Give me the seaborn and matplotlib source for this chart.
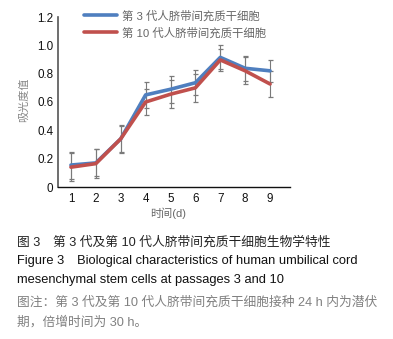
import matplotlib
matplotlib.use("Agg")
import matplotlib.pyplot as plt
import seaborn as sns
import pandas as pd
import numpy as np

days = [1, 2, 3, 4, 5, 6, 7, 8, 9]
p3_values = [0.155, 0.17, 0.34, 0.65, 0.69, 0.736, 0.915, 0.838, 0.82]
p10_values = [0.14, 0.165, 0.34, 0.60, 0.655, 0.70, 0.897, 0.82, 0.727]
p3_err = [0.095, 0.095, 0.10, 0.09, 0.095, 0.09, 0.085, 0.09, 0.08]
p10_err = [0.10, 0.10, 0.09, 0.09, 0.10, 0.10, 0.08, 0.095, 0.09]
series_names = ["第 3 代人脐带间充质干细胞", "第 10 代人脐带间充质干细胞"]
y_ticks = [0, 0.2, 0.4, 0.6, 0.8, 1.0, 1.2]
y_tick_labels = ["0", "0.2", "0.4", "0.6", "0.8", "1.0", "1.2"]
x_label = "时间(d)"
y_label = "吸光度值"
caption_lines = [
    "图 3\u3000第 3 代及第 10 代人脐带间充质干细胞生物学特性",
    "Figure 3\u3000Biological characteristics of human umbilical cord",
    "mesenchymal stem cells at passages 3 and 10",
    "图注：第 3 代及第 10 代人脐带间充质干细胞接种 24 h 内为潜伏",
    "期，倍增时间为 30 h。",
]

sns.set_theme(style="white")
plt.rcParams['font.family'] = ['Liberation Sans', 'Noto Sans CJK SC', 'DejaVu Sans']

df = pd.DataFrame({
    "day": days * 2,
    "value": p3_values + p10_values,
    "series": [series_names[0]] * len(days) + [series_names[1]] * len(days),
})

colors = {series_names[0]: "#4f7fbf", series_names[1]: "#c0504d"}

fig = plt.figure(figsize=(3.93, 3.39), dpi=100)
ax = fig.add_axes([58/393, 1-187/339, 232/393, 170/339])

# error bars
ax.errorbar(days, p3_values, yerr=p3_err, fmt='none', ecolor="#7a7a7a",
            elinewidth=0.8, capsize=1.8, capthick=0.9, zorder=1)
ax.errorbar(days, p10_values, yerr=p10_err, fmt='none', ecolor="#7a7a7a",
            elinewidth=0.8, capsize=1.8, capthick=0.9, zorder=1)

sns.lineplot(data=df, x="day", y="value", hue="series", palette=colors,
             linewidth=2.6, ax=ax, legend=False, zorder=3)

ax.set_xlim(0.48, 9.8)
ax.set_ylim(0, 1.2)
ax.set_xticks(days)
ax.set_xticklabels([str(d) for d in days], fontsize=8.4, color="#111111")
ax.set_yticks(y_ticks)
ax.set_yticklabels(y_tick_labels, fontsize=8.4, color="#111111")
ax.tick_params(axis='x', direction='in', length=4, width=0.8, color="#333333", pad=4.5)
ax.tick_params(axis='y', direction='in', length=3, width=0.8, color="#333333", pad=3.5)
ax.set_xlabel("")
ax.set_ylabel("")
for s in ["top", "right"]:
    ax.spines[s].set_visible(False)
ax.spines["left"].set_color("#555555")
ax.spines["left"].set_linewidth(1.2)
ax.spines["bottom"].set_color("#111111")
ax.spines["bottom"].set_linewidth(1.0)

# axis labels
fig.text(24/393, 1-100/339, y_label, rotation=90, ha='center', va='center',
         fontsize=8, color="#888888")
fig.text(168/393, 1-213/339, x_label, ha='center', va='center',
         fontsize=8, color="#666666")

# legend
from matplotlib.lines import Line2D
handles = [Line2D([0], [0], color=colors[n], lw=2.6) for n in series_names]
fig.legend(handles, series_names, loc='upper left', bbox_to_anchor=(84/393, 1-10/339),
           frameon=False, fontsize=8.2, handlelength=2.9, handletextpad=0.4,
           labelspacing=0.5, borderpad=0, borderaxespad=0, labelcolor="#666666")

# caption
ys = [242, 261, 280, 302, 322]
cols = ["#222222", "#111111", "#111111", "#808080", "#808080"]
sizes = [9.2, 9.3, 9.3, 9.2, 9.2]
for line, y, c, fs in zip(caption_lines, ys, cols, sizes):
    fig.text(17/393, 1-y/339, line, ha='left', va='center', fontsize=fs, color=c)

fig.savefig("out.png", dpi=100)
